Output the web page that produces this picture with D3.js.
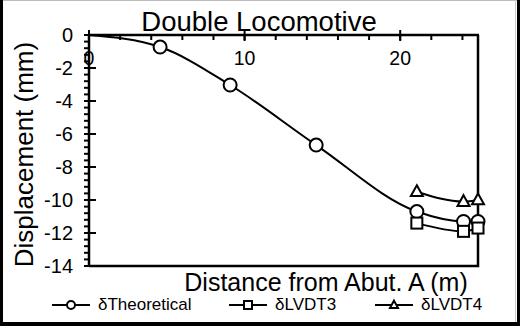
<!DOCTYPE html>
<html>
<head>
<meta charset="utf-8">
<script src="https://cdn.jsdelivr.net/npm/d3@7"></script>
<style>
  html, body { margin: 0; padding: 0; background: #fff; }
  svg { display: block; font-family: 'Liberation Sans', Arial, sans-serif; }
</style>
</head>
<body>
<div id="chart"></div>
<script>
/* data */
const theoX = [0, 4.57, 9.07, 14.6, 21.07, 24.07, 25.0];
const theoY = [0, -0.73, -3.03, -6.67, -10.7, -11.3, -11.3];
const theoMarked = [false, true, true, true, true, true, true];
const lvdtX = [21.07, 24.07, 25.0];
const lvdt3Y = [-11.4, -11.9, -11.7];
const lvdt4Y = [-9.5, -10.1, -10.0];
const xMajor = [0, 10, 20];
const yMajor = [0, -2, -4, -6, -8, -10, -12, -14];
const seriesNames = ['δTheoretical', 'δLVDT3', 'δLVDT4'];

const W = 520, H = 326;
const m = { t: 35, l: 89, r: 42, b: 60 };

const svg = d3.select('#chart').append('svg').attr('width', W).attr('height', H);

/* frame */
svg.append('rect').attr('x', 0).attr('y', 0).attr('width', W).attr('height', H).attr('fill', '#fff');
svg.append('line').attr('x1', 0).attr('x2', W).attr('y1', 0.5).attr('y2', 0.5).attr('stroke', '#bbb');
svg.append('line').attr('x1', 515.5).attr('x2', 515.5).attr('y1', 0).attr('y2', H).attr('stroke', '#ccc');
svg.append('rect').attr('x', 0).attr('y', 0).attr('width', 3).attr('height', H).attr('fill', '#000');
svg.append('rect').attr('x', 517).attr('y', 0).attr('width', 3).attr('height', H).attr('fill', '#000');
svg.append('rect').attr('x', 0).attr('y', 322).attr('width', W).attr('height', 4).attr('fill', '#000');

const x = d3.scaleLinear().domain([0, 25]).range([m.l, W - m.r]);
const y = d3.scaleLinear().domain([0, -14]).range([m.t, H - m.b]);

/* plot frame: right and bottom border */
svg.append('path')
  .attr('d', `M${x(25)},${y(0)}V${y(-14)}H${x(0)}`)
  .attr('fill', 'none').attr('stroke', '#000').attr('stroke-width', 2.5);

/* title */
svg.append('text').attr('x', 259).attr('y', 31).attr('text-anchor', 'middle')
  .attr('font-size', 27.5).attr('fill', '#000').text('Double Locomotive');

/* y axis: minor ticks every 0.4, major every 2 */
const yMinor = d3.range(0, 14.001, 0.4).map(v => -v);
const gy = svg.append('g');
gy.selectAll('.ymin').data(yMinor).join('line')
  .attr('x1', x(0) - 5).attr('x2', x(0) + 1)
  .attr('y1', d => y(d)).attr('y2', d => y(d))
  .attr('stroke', '#000').attr('stroke-width', 2);
gy.selectAll('.ymaj').data(yMajor).join('line')
  .attr('x1', x(0) - 5).attr('x2', x(0) + 7)
  .attr('y1', d => y(d)).attr('y2', d => y(d))
  .attr('stroke', '#000').attr('stroke-width', 2);
gy.append('line').attr('x1', x(0)).attr('x2', x(0)).attr('y1', y(0) - 1).attr('y2', y(-14) + 1)
  .attr('stroke', '#000').attr('stroke-width', 2.5);
gy.selectAll('.ylab').data(yMajor).join('text')
  .attr('x', 73).attr('y', d => y(d)).attr('dy', '0.36em')
  .attr('text-anchor', 'end').attr('font-size', 20)
  .text(d => d === 0 ? '0' : '-' + Math.abs(d));

/* x axis at top: minor every 2, major every 10 */
const xMinor = d3.range(0, 25, 2);
const gx = svg.append('g');
gx.selectAll('.xmin').data(xMinor).join('line')
  .attr('x1', d => x(d)).attr('x2', d => x(d))
  .attr('y1', y(0)).attr('y2', y(0) + 5)
  .attr('stroke', '#000').attr('stroke-width', 2);
gx.selectAll('.xmaj').data(xMajor).join('line')
  .attr('x1', d => x(d)).attr('x2', d => x(d))
  .attr('y1', y(0) - 5).attr('y2', y(0) + 6)
  .attr('stroke', '#000').attr('stroke-width', 2);
gx.append('line').attr('x1', x(0) - 1).attr('x2', x(25) + 1).attr('y1', y(0)).attr('y2', y(0))
  .attr('stroke', '#000').attr('stroke-width', 2.5);
gx.selectAll('.xlab').data(xMajor).join('text')
  .attr('x', d => x(d)).attr('y', 65)
  .attr('text-anchor', 'middle').attr('font-size', 19.5).text(d => d);

/* axis titles */
svg.append('text').attr('transform', `translate(33,${(y(0) + y(-14)) / 2 + 4}) rotate(-90)`)
  .attr('text-anchor', 'middle').attr('font-size', 26).text('Displacement (mm)');
svg.append('text').attr('x', 326).attr('y', 291).attr('text-anchor', 'middle')
  .attr('font-size', 25).text('Distance from Abut. A (m)');

/* series */
const theo = theoX.map((d, i) => ({ x: d, y: theoY[i], mk: theoMarked[i] }));
const s3 = lvdtX.map((d, i) => ({ x: d, y: lvdt3Y[i] }));
const s4 = lvdtX.map((d, i) => ({ x: d, y: lvdt4Y[i] }));

const line = d3.line().x(d => x(d.x)).y(d => y(d.y)).curve(d3.curveMonotoneX);
[theo, s3, s4].forEach(s => {
  svg.append('path').datum(s).attr('d', line)
    .attr('fill', 'none').attr('stroke', '#000').attr('stroke-width', 2);
});

function marker(g, kind, cx, cy, sz) {
  if (kind === 0) {
    g.append('circle').attr('cx', cx).attr('cy', cy).attr('r', sz / 2)
      .attr('fill', '#fff').attr('stroke', '#000').attr('stroke-width', 2);
  } else if (kind === 1) {
    g.append('rect').attr('x', cx - sz / 2).attr('y', cy - sz / 2).attr('width', sz).attr('height', sz)
      .attr('fill', '#fff').attr('stroke', '#000').attr('stroke-width', 2);
  } else {
    const h = sz * 0.9;
    g.append('path').attr('d', `M${cx},${cy - h * 0.6}L${cx + sz / 2},${cy + h * 0.4}L${cx - sz / 2},${cy + h * 0.4}Z`)
      .attr('fill', '#fff').attr('stroke', '#000').attr('stroke-width', 2);
  }
}

const gm = svg.append('g');
theo.filter(d => d.mk).forEach(d => marker(gm, 0, x(d.x), y(d.y), 13));
s3.forEach(d => marker(gm, 1, x(d.x), y(d.y), 11));
s4.forEach(d => marker(gm, 2, x(d.x), y(d.y), 12));

/* legend */
const legX = [52, 229, 375];
const leg = svg.append('g');
seriesNames.forEach((name, i) => {
  const lx = legX[i], ly = 305;
  leg.append('line').attr('x1', lx).attr('x2', lx + 38).attr('y1', ly).attr('y2', ly)
    .attr('stroke', '#000').attr('stroke-width', 2);
  marker(leg, i, lx + 19, ly, 8);
  leg.append('text').attr('x', lx + 46).attr('y', ly + 5).attr('font-size', 17).text(name);
});
</script>
</body>
</html>
